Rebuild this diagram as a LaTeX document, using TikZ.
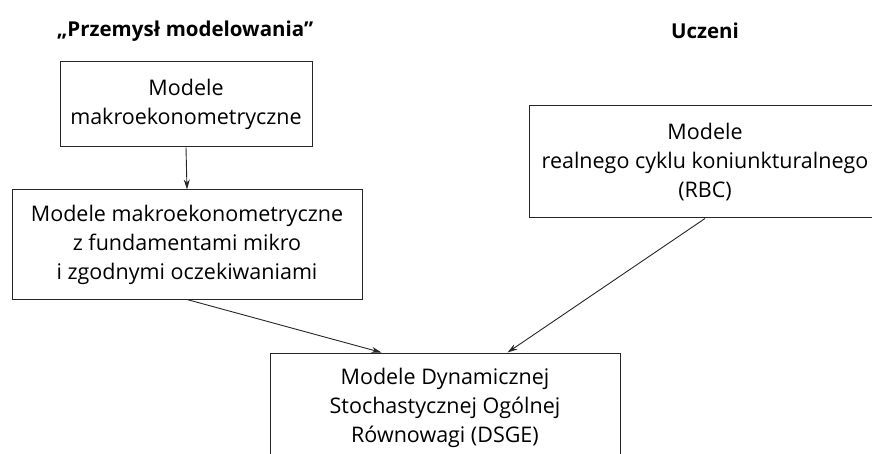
\documentclass[tikz,border=0pt]{standalone}
\usepackage{fontspec}
\setmainfont{Open Sans}
\usetikzlibrary{arrows.meta,calc}
\begin{document}
\begin{tikzpicture}[x=1pt,y=-1pt,
  box/.style={draw=black!85,line width=1pt,align=center,inner sep=0pt,
    font=\fontsize{21.5}{29}\selectfont},
  title/.style={font=\fontsize{20.5}{29}\selectfont\bfseries},
  link/.style={draw=black!85,line width=0.9pt,-{Stealth[length=10pt,width=6pt]}}]
\useasboundingbox (0,0) rectangle (872,454);
\clip (0,0) rectangle (872,454);
\node[title] (t1) at (185,31) {„Przemysł modelowania”};
\node[title] (t2) at (705,31) {Uczeni};
\node[box,minimum width=252,minimum height=85] (b1) at (186,104.5)
  {Modele\\makroekonometryczne};
\node[box,minimum width=350,minimum height=109] (b2) at (187,244.5)
  {Modele makroekonometryczne\\z fundamentami mikro\\i zgodnymi oczekiwaniami};
\node[box,minimum width=352,minimum height=112] (b3) at (705,162)
  {Modele\\realnego cyklu koniunkturalnego\\(RBC)};
\node[box,minimum width=350,minimum height=110] (b4) at (445,408)
  {Modele Dynamicznej\\Stochastycznej Ogólnej\\Równowagi (DSGE)};
\coordinate (in1) at ($(b4.north west)+(112,0)$);
\coordinate (in2) at ($(b4.north west)+(238,0)$);
\draw[link] (b1.south) -- (b2.north);
\draw[link] (b2.south) -- (in1);
\draw[link] (b3.south) -- (in2);
\end{tikzpicture}
\end{document}
